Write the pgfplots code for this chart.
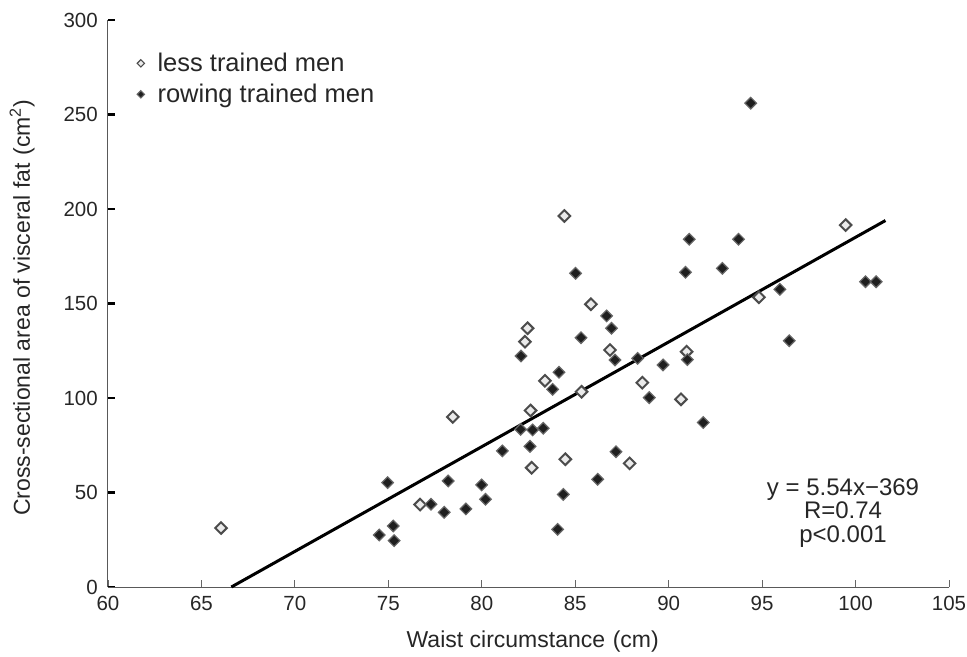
\documentclass[border=0pt]{standalone}
\usepackage{fontspec}
\setmainfont{Liberation Sans}
\usepackage{pgfplots}
\usepackage{pgfplotstable}
\pgfplotsset{compat=1.18}

\pgfplotstableread{
x y
66.05 31.2
76.70 43.6
78.45 90.0
84.42 196.3
99.47 191.5
94.83 153.3
85.84 149.6
82.45 136.9
82.31 129.8
86.86 125.4
90.96 124.5
85.34 103.3
83.38 109.1
88.59 108.1
90.66 99.3
82.61 93.4
84.47 67.6
82.67 63.1
87.91 65.4
}\lesstrained

\pgfplotstableread{
x y
94.39 256.0
91.10 184.0
93.74 184.0
85.02 166.0
90.90 166.5
92.87 168.6
100.53 161.5
101.10 161.5
95.95 157.5
86.68 143.4
86.94 136.9
85.31 131.9
96.45 130.3
82.10 122.2
87.13 120.1
88.34 121.0
91.00 120.3
89.70 117.5
84.13 113.6
83.79 104.6
88.96 100.2
91.85 87.0
82.08 83.4
82.72 83.1
83.29 84.0
81.10 72.0
82.58 74.4
87.18 71.6
86.20 57.0
74.96 55.2
78.20 56.1
79.99 54.0
80.20 46.4
77.28 43.8
79.15 41.3
77.99 39.5
84.36 49.0
84.06 30.5
74.51 27.5
75.26 32.3
75.31 24.5
}\rowing

\begin{document}
\begin{tikzpicture}
\begin{axis}[
  name=ax,
  scale only axis,
  width=841bp, height=567bp,
  xmin=60, xmax=105, ymin=0, ymax=300,
  xtick={60,65,...,105},
  ytick={0,50,...,300},
  axis lines=left,
  axis line style={-, draw=black!65, line width=1bp},
  tick align=inside,
  major tick length=7bp,
  xtick style={line width=0.8bp, draw=black!60},
  ytick style={line width=2.2bp, draw=black},
  /pgf/number format/assume math mode=true,
  tick label style={font=\fontsize{20.5bp}{24bp}\selectfont, text=black!85},
  xticklabel style={anchor=base, yshift=-23bp},
  yticklabel style={anchor=east, inner sep=0pt, xshift=-10bp},
  xlabel={Waist circumstance\,\,(cm)},
  ylabel={Cross-sectional area of visceral fat\,\,(cm\textsuperscript{2})},
  every axis x label/.style={at={(axis description cs:0.505,-0.106)}, anchor=base,
    font=\fontsize{23bp}{27bp}\selectfont, text=black!85},
  every axis y label/.style={at={(axis description cs:-0.102,0.492)}, rotate=90, anchor=center,
    font=\fontsize{23bp}{27bp}\selectfont, text=black!85},
  clip=false,
  legend style={at={(axis cs:61.55,283.5)}, anchor=north west, draw=none, fill=none,
    font=\fontsize{25.5bp}{30bp}\selectfont, text=black!85, inner sep=0pt, row sep=7bp,
    /tikz/every odd column/.append style={column sep=11bp}},
  legend cell align=left,
  legend image code/.code={\draw[#1] plot coordinates {(0bp,0bp)};},
  legend image post style={mark size=2.6bp, line width=1.1bp},
]
\addplot[only marks, mark=square*, mark size=4.1bp, line width=2bp,
  mark options={rotate=45, draw=black!70, fill=black!8}] table[x=x,y=y] {\lesstrained};
\addlegendentry{less trained men}
\addplot[only marks, mark=square*, mark size=4.1bp, line width=1.2bp,
  mark options={rotate=45, draw=black!60, fill=black!88}] table[x=x,y=y] {\rowing};
\addlegendentry{rowing trained men}
\addplot[black, line width=3bp, no marks, forget plot] coordinates {(66.6,0) (101.6,193.9)};
\node[align=center, font=\fontsize{24bp}{23.5bp}\selectfont, text=black!85, anchor=base]
  at (axis cs:99.33,23.8) {y = 5.54x−369\\R=0.74\\p<0.001};
\end{axis}
\pgfresetboundingbox
\path ([xshift=-108bp, yshift=-69bp]ax.south west) rectangle ([xshift=18bp, yshift=20bp]ax.north east);
\end{tikzpicture}
\end{document}
